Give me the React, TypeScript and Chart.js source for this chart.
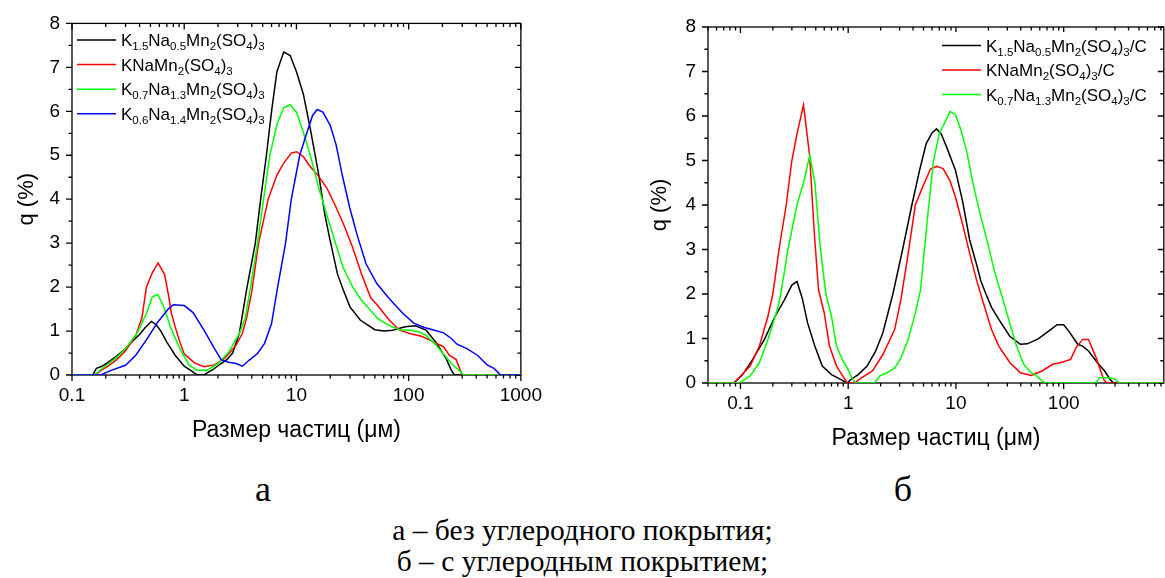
import React, { useEffect, useRef } from "react";
import { Chart, registerables } from "chart.js";

Chart.register(...registerables);

const FONT = "'Liberation Sans', Arial, sans-serif";
const SERIF = "'Liberation Serif', 'Times New Roman', serif";

// ---------- Left chart (а) data: particle size (µm) vs q (%) ----------
const aBlackX = [0.1, 0.153, 0.165, 0.185, 0.208, 0.25, 0.3, 0.35, 0.4, 0.45, 0.51, 0.56, 0.62, 0.7, 0.83, 1.0, 1.15, 1.27, 1.38, 1.5, 1.6, 1.8, 2.1, 2.4, 2.7, 3.1, 3.6, 4.3, 4.8, 5.4, 6.0, 6.7, 7.7, 8.8, 10, 11.5, 13.3, 15.9, 17.9, 20, 23.2, 26, 30, 37, 50, 60, 72, 93, 115, 143, 178, 215, 240, 255, 1000];
const aBlackY = [0, 0, 0.15, 0.2, 0.28, 0.43, 0.6, 0.78, 0.92, 1.08, 1.22, 1.15, 1.0, 0.75, 0.45, 0.2, 0.1, 0.02, 0, 0, 0.05, 0.12, 0.25, 0.35, 0.5, 0.95, 1.95, 3.0, 4.0, 5.0, 6.0, 6.9, 7.35, 7.27, 6.9, 6.4, 5.6, 4.52, 3.65, 3.05, 2.3, 1.95, 1.55, 1.25, 1.03, 1.0, 1.02, 1.1, 1.12, 1.02, 0.72, 0.38, 0.11, 0, 0];

const aRedX = [0.1, 0.16, 0.18, 0.21, 0.25, 0.3, 0.37, 0.42, 0.46, 0.52, 0.585, 0.67, 0.72, 0.77, 0.83, 0.9, 1.0, 1.24, 1.5, 1.86, 2.3, 2.9, 3.3, 3.6, 4.0, 4.6, 5.6, 6.7, 7.7, 9.0, 10, 11.5, 13.3, 15.8, 18.6, 22, 26.3, 31.7, 38, 46, 53, 67, 83, 104, 130, 150, 178, 205, 230, 265, 300, 1000];
const aRedY = [0, 0, 0.1, 0.2, 0.35, 0.55, 0.9, 1.3, 2.0, 2.33, 2.55, 2.28, 1.85, 1.4, 1.1, 0.8, 0.48, 0.27, 0.19, 0.23, 0.38, 0.68, 0.95, 1.3, 1.9, 3.0, 4.0, 4.55, 4.82, 5.05, 5.08, 4.97, 4.74, 4.52, 4.26, 3.88, 3.43, 2.9, 2.3, 1.75, 1.58, 1.25, 1.02, 0.94, 0.88, 0.81, 0.72, 0.64, 0.45, 0.35, 0, 0];

const aGreenX = [0.1, 0.157, 0.18, 0.21, 0.25, 0.3, 0.38, 0.46, 0.52, 0.58, 0.64, 0.7, 0.75, 0.9, 1.1, 1.3, 1.6, 2.0, 2.5, 3.1, 3.5, 3.9, 4.5, 5.1, 5.8, 6.7, 7.7, 8.8, 10, 11.5, 13.3, 15.8, 18.6, 22, 26, 31.7, 38, 43, 53, 67, 83, 104, 124, 143, 170, 197, 240, 280, 310, 1000];
const aGreenY = [0, 0, 0.12, 0.25, 0.4, 0.6, 0.95, 1.4, 1.78, 1.83, 1.62, 1.35, 1.1, 0.64, 0.23, 0.11, 0.11, 0.26, 0.53, 0.94, 1.3, 2.0, 3.0, 4.0, 5.0, 5.7, 6.08, 6.15, 5.98, 5.53, 5.0, 4.26, 3.65, 3.05, 2.45, 2.0, 1.7, 1.55, 1.28, 1.13, 1.03, 1.02, 0.98, 0.9, 0.72, 0.53, 0.26, 0.11, 0, 0];

const aBlueX = [0.1, 0.18, 0.22, 0.3, 0.37, 0.46, 0.58, 0.72, 0.8, 1.0, 1.2, 1.5, 1.86, 2.15, 2.5, 2.9, 3.3, 3.8, 4.5, 5.2, 6.0, 6.8, 8.0, 9.0, 10.7, 12.2, 13.9, 15.3, 17.2, 20, 22.6, 25.6, 29.9, 34.6, 41.7, 52, 67, 89, 111, 138, 170, 205, 240, 270, 330, 410, 500, 575, 660, 1000];
const aBlueY = [0, 0, 0.1, 0.22, 0.45, 0.8, 1.2, 1.5, 1.6, 1.58, 1.42, 1.02, 0.6, 0.34, 0.29, 0.26, 0.2, 0.34, 0.49, 0.72, 1.17, 2.0, 3.0, 4.0, 5.0, 5.46, 5.9, 6.04, 5.98, 5.68, 5.23, 4.55, 3.8, 3.2, 2.53, 2.08, 1.74, 1.4, 1.18, 1.08, 1.02, 0.96, 0.83, 0.7, 0.6, 0.45, 0.23, 0.15, 0, 0];

// ---------- Right chart (б) data ----------
const bBlackX = [0.05, 0.087, 0.105, 0.13, 0.167, 0.21, 0.256, 0.3, 0.335, 0.375, 0.42, 0.49, 0.575, 0.7, 0.85, 0.98, 1.06, 1.24, 1.5, 1.8, 2.1, 2.6, 3.2, 3.9, 4.6, 5.3, 6.0, 6.6, 7.3, 8.2, 9.9, 11.5, 13.4, 15.8, 17, 19, 21.4, 25, 31.6, 39.6, 46, 58, 72, 87, 100, 112, 135, 150, 170, 205, 240, 270, 290, 850];
const bBlackY = [0, 0, 0.19, 0.53, 0.98, 1.5, 1.87, 2.2, 2.28, 1.9, 1.35, 0.83, 0.38, 0.19, 0.08, 0, 0.08, 0.19, 0.38, 0.72, 1.13, 2.0, 3.0, 4.0, 4.78, 5.38, 5.62, 5.71, 5.6, 5.3, 4.78, 4.1, 3.22, 2.6, 2.3, 2.0, 1.7, 1.43, 1.05, 0.87, 0.88, 0.99, 1.16, 1.31, 1.31, 1.16, 0.87, 0.83, 0.72, 0.46, 0.27, 0.08, 0, 0];

const bRedX = [0.05, 0.087, 0.1, 0.123, 0.15, 0.18, 0.2, 0.228, 0.266, 0.3, 0.335, 0.385, 0.44, 0.485, 0.53, 0.6, 0.67, 0.78, 0.91, 0.98, 1.14, 1.34, 1.68, 2.1, 2.7, 3.1, 3.6, 4.2, 4.9, 5.8, 6.6, 7.6, 8.8, 9.9, 11.5, 13.4, 15.8, 18.4, 21.4, 25, 31.6, 39.6, 50, 63, 79, 95, 116, 130, 150, 170, 200, 235, 250, 850];
const bRedY = [0, 0, 0.15, 0.38, 0.83, 1.5, 2.0, 3.0, 4.0, 5.0, 5.6, 6.25, 5.08, 3.37, 2.1, 1.57, 0.83, 0.38, 0.12, 0, 0, 0.12, 0.27, 0.64, 1.2, 1.9, 2.9, 4.0, 4.4, 4.81, 4.87, 4.82, 4.55, 4.18, 3.58, 2.92, 2.25, 1.72, 1.2, 0.83, 0.46, 0.23, 0.17, 0.27, 0.42, 0.46, 0.53, 0.79, 0.98, 0.98, 0.57, 0.08, 0, 0];

const bGreenX = [0.05, 0.098, 0.123, 0.15, 0.18, 0.22, 0.237, 0.276, 0.335, 0.39, 0.44, 0.49, 0.55, 0.62, 0.7, 0.78, 0.88, 0.98, 1.1, 1.18, 1.75, 1.97, 2.3, 2.7, 3.1, 3.6, 4.2, 4.7, 5.1, 5.6, 6.2, 7.0, 7.9, 8.8, 9.9, 11.1, 12.5, 14.6, 17, 19.7, 23, 26, 31.6, 36.5, 42.5, 50, 56, 63, 68, 200, 215, 270, 300, 330, 850];
const bGreenY = [0, 0, 0.16, 0.46, 0.98, 1.65, 2.0, 3.0, 4.0, 4.55, 5.12, 4.52, 3.07, 2.0, 1.5, 0.83, 0.53, 0.34, 0.08, 0, 0, 0.16, 0.23, 0.34, 0.57, 0.98, 1.57, 2.1, 3.0, 4.0, 5.0, 5.6, 5.86, 6.1, 6.03, 5.69, 5.24, 4.42, 3.74, 3.15, 2.47, 2.05, 1.35, 0.83, 0.42, 0.23, 0.16, 0.05, 0, 0, 0.12, 0.12, 0.08, 0, 0];

// ---------- Labels / ticks ----------
const aLabels = ["K_{1.5}Na_{0.5}Mn_{2}(SO_{4})_{3}", "KNaMn_{2}(SO_{4})_{3}", "K_{0.7}Na_{1.3}Mn_{2}(SO_{4})_{3}", "K_{0.6}Na_{1.4}Mn_{2}(SO_{4})_{3}"];
const bLabels = ["K_{1.5}Na_{0.5}Mn_{2}(SO_{4})_{3}/C", "KNaMn_{2}(SO_{4})_{3}/C", "K_{0.7}Na_{1.3}Mn_{2}(SO_{4})_{3}/C"];
const aColors = ["#000000", "#ff0000", "#00ff00", "#0000ff"];
const bColors = ["#000000", "#ff0000", "#00ff00"];

const aXMajor = [0.1, 1, 10, 100, 1000];
const aXMinor = [0.2, 0.3, 0.4, 0.5, 0.6, 0.7, 0.8, 0.9, 2, 3, 4, 5, 6, 7, 8, 9, 20, 30, 40, 50, 60, 70, 80, 90, 200, 300, 400, 500, 600, 700, 800, 900];
const bXMajor = [0.1, 1, 10, 100];
const bXMinor = [0.05, 0.06, 0.07, 0.08, 0.09, 0.2, 0.3, 0.4, 0.5, 0.6, 0.7, 0.8, 0.9, 2, 3, 4, 5, 6, 7, 8, 9, 20, 30, 40, 50, 60, 70, 80, 90, 200, 300, 400, 500, 600, 700, 800];
const yMajor = [0, 1, 2, 3, 4, 5, 6, 7, 8];
const yMinor = [0.5, 1.5, 2.5, 3.5, 4.5, 5.5, 6.5, 7.5];

const xTitle = "Размер частиц (μм)";
const yTitle = "q (%)";

function zip(xs: number[], ys: number[]) {
  return xs.map((x, i) => ({ x, y: ys[i] }));
}

function parseLabel(s: string) {
  const segs: { t: string; sub: boolean }[] = [];
  const re = /_\{([^}]*)\}/g;
  let last = 0;
  let m: RegExpExecArray | null;
  while ((m = re.exec(s))) {
    if (m.index > last) segs.push({ t: s.slice(last, m.index), sub: false });
    segs.push({ t: m[1], sub: true });
    last = m.index + m[0].length;
  }
  if (last < s.length) segs.push({ t: s.slice(last), sub: false });
  return segs;
}

const framePlugin = {
  id: "frame",
  beforeDatasetsDraw(chart: any, _args: any, opts: any) {
    const { ctx, chartArea } = chart;
    const { left, right, top, bottom } = chartArea;
    const xs = chart.scales.x;
    const ys = chart.scales.y;
    ctx.save();
    ctx.strokeStyle = "#000";
    ctx.lineWidth = 1.3;
    ctx.strokeRect(left, top, right - left, bottom - top);
    ctx.beginPath();
    const xt = (vals: number[], len: number) => {
      for (const v of vals) {
        const p = xs.getPixelForValue(v);
        if (p < left - 0.5 || p > right + 0.5) continue;
        ctx.moveTo(p, bottom);
        ctx.lineTo(p, bottom + len);
        ctx.moveTo(p, top);
        ctx.lineTo(p, top + len);
      }
    };
    const yt = (vals: number[], len: number) => {
      for (const v of vals) {
        const p = ys.getPixelForValue(v);
        ctx.moveTo(left, p);
        ctx.lineTo(left - len, p);
        ctx.moveTo(right, p);
        ctx.lineTo(right - len, p);
      }
    };
    xt(opts.xMajor, 6);
    xt(opts.xMinor, 3.5);
    yt(yMajor, 6);
    yt(yMinor, 3.5);
    ctx.stroke();
    ctx.restore();
  },
};

const legendPlugin = {
  id: "subLegend",
  afterDatasetsDraw(chart: any, _args: any, opts: any) {
    const ctx = chart.ctx;
    ctx.save();
    if (opts.box) {
      ctx.fillStyle = "#fff";
      ctx.fillRect(opts.box[0], opts.box[1], opts.box[2], opts.box[3]);
    }
    chart.data.datasets.forEach((ds: any, i: number) => {
      const y = opts.y + i * opts.dy;
      ctx.strokeStyle = ds.borderColor;
      ctx.lineWidth = 1.5;
      ctx.beginPath();
      ctx.moveTo(opts.x, y);
      ctx.lineTo(opts.x + opts.len, y);
      ctx.stroke();
      let tx = opts.x + opts.len + opts.gap;
      const base = y + 6;
      ctx.fillStyle = "#000";
      ctx.textBaseline = "alphabetic";
      ctx.textAlign = "left";
      for (const seg of parseLabel(ds.label)) {
        ctx.font = `${seg.sub ? opts.subSize : opts.size}px ${FONT}`;
        ctx.fillText(seg.t, tx, base + (seg.sub ? 4 : 0));
        tx += ctx.measureText(seg.t).width;
      }
    });
    ctx.restore();
  },
};

function isPow10(v: number) {
  const l = Math.log10(v);
  return Math.abs(l - Math.round(l)) < 1e-6;
}

function makeConfig(p: {
  xs: number[][];
  ys: number[][];
  labels: string[];
  colors: string[];
  orders: number[];
  xMin: number;
  xMax: number;
  xMajor: number[];
  xMinor: number[];
  canvasH: number;
  plotBottom: number;
  padTop: number;
  padRight: number;
  yAxisW: number;
  yTitlePad: number;
  xTitlePad: number;
  legend: any;
}) {
  const allTicks = [...p.xMajor, ...p.xMinor].sort((a, b) => a - b);
  return {
    type: "line" as const,
    data: {
      datasets: p.xs.map((xs, i) => ({
        label: p.labels[i],
        data: zip(xs, p.ys[i]),
        borderColor: p.colors[i],
        backgroundColor: p.colors[i],
        borderWidth: 1.5,
        pointRadius: 0,
        tension: 0,
        fill: false,
        order: p.orders[i],
      })),
    },
    options: {
      animation: false,
      responsive: false,
      devicePixelRatio: 1,
      layout: { padding: { top: p.padTop, right: p.padRight, bottom: 0, left: 0 } },
      plugins: {
        legend: { display: false },
        tooltip: { enabled: false },
        frame: { xMajor: p.xMajor, xMinor: p.xMinor },
        subLegend: p.legend,
      },
      scales: {
        x: {
          type: "logarithmic",
          min: p.xMin,
          max: p.xMax,
          afterBuildTicks: (s: any) => {
            s.ticks = allTicks.map((v) => ({ value: v }));
          },
          afterFit: (s: any) => {
            s.height = p.canvasH - p.plotBottom;
          },
          grid: { display: false, drawTicks: false },
          border: { display: false },
          ticks: {
            autoSkip: false,
            maxRotation: 0,
            minRotation: 0,
            padding: 9,
            color: "#000",
            font: { family: FONT, size: 19 },
            callback: (v: any) => {
              const n = Number(v);
              if (!isPow10(n)) return "";
              return n >= 1 ? String(Math.round(n)) : String(n);
            },
          },
          title: {
            display: true,
            text: xTitle,
            color: "#000",
            font: { family: FONT, size: 23 },
            padding: { top: 0, bottom: p.xTitlePad },
          },
        },
        y: {
          type: "linear",
          min: 0,
          max: 8,
          afterFit: (s: any) => {
            s.width = p.yAxisW;
          },
          grid: { display: false, drawTicks: false },
          border: { display: false },
          ticks: {
            stepSize: 1,
            padding: 12,
            color: "#000",
            font: { family: FONT, size: 19 },
          },
          title: {
            display: true,
            text: yTitle,
            color: "#000",
            font: { family: FONT, size: 22 },
            padding: { top: p.yTitlePad, bottom: 0 },
          },
        },
      },
    },
    plugins: [framePlugin, legendPlugin],
  };
}

export default function App() {
  const leftRef = useRef<HTMLCanvasElement>(null);
  const rightRef = useRef<HTMLCanvasElement>(null);

  useEffect(() => {
    const cfgA: any = makeConfig({
      xs: [aBlackX, aRedX, aGreenX, aBlueX],
      ys: [aBlackY, aRedY, aGreenY, aBlueY],
      labels: aLabels,
      colors: aColors,
      orders: [3, 2, 1, 0],
      xMin: 0.1,
      xMax: 1000,
      xMajor: aXMajor,
      xMinor: aXMinor,
      canvasH: 450,
      plotBottom: 375,
      padTop: 20,
      padRight: 30,
      yAxisW: 72,
      yTitlePad: 14,
      xTitlePad: 6,
      legend: { x: 77, y: 40, dy: 24.6, len: 39, gap: 5, size: 17, subSize: 11.5 },
    });
    const cfgB: any = makeConfig({
      xs: [bBlackX, bRedX, bGreenX],
      ys: [bBlackY, bRedY, bGreenY],
      labels: bLabels,
      colors: bColors,
      orders: [2, 1, 0],
      xMin: 0.05,
      xMax: 850,
      xMajor: bXMajor,
      xMinor: bXMinor,
      canvasH: 460,
      plotBottom: 383,
      padTop: 27,
      padRight: 4,
      yAxisW: 108,
      yTitlePad: 47,
      xTitlePad: 8,
      legend: { x: 342, y: 45.5, dy: 24.5, len: 39, gap: 5, size: 17, subSize: 11.5, box: [337, 32, 218, 76] },
    });
    const c1 = new Chart(leftRef.current as HTMLCanvasElement, cfgA);
    const c2 = new Chart(rightRef.current as HTMLCanvasElement, cfgB);
    return () => {
      c1.destroy();
      c2.destroy();
    };
  }, []);

  return (
    <div
      style={{
        position: "fixed",
        left: 0,
        top: 0,
        width: 1165,
        height: 578,
        overflow: "hidden",
        background: "#fff",
      }}
    >
      <canvas ref={leftRef} width={551} height={450} style={{ position: "absolute", left: 0, top: 0 }} />
      <canvas ref={rightRef} width={570} height={460} style={{ position: "absolute", left: 600, top: 0 }} />
      <div
        style={{
          position: "absolute",
          left: 213,
          width: 100,
          top: 466,
          textAlign: "center",
          fontFamily: SERIF,
          fontSize: 36,
          lineHeight: "46px",
          color: "#000",
        }}
      >
        а
      </div>
      <div
        style={{
          position: "absolute",
          left: 853,
          width: 100,
          top: 466,
          textAlign: "center",
          fontFamily: SERIF,
          fontSize: 36,
          lineHeight: "46px",
          color: "#000",
        }}
      >
        б
      </div>
      <div
        style={{
          position: "absolute",
          left: 0,
          width: 1165,
          top: 515,
          textAlign: "center",
          fontFamily: SERIF,
          fontSize: 29.5,
          lineHeight: "31px",
          color: "#000",
        }}
      >
        <div>а – без углеродного покрытия;</div>
        <div>б – с углеродным покрытием;</div>
      </div>
    </div>
  );
}
